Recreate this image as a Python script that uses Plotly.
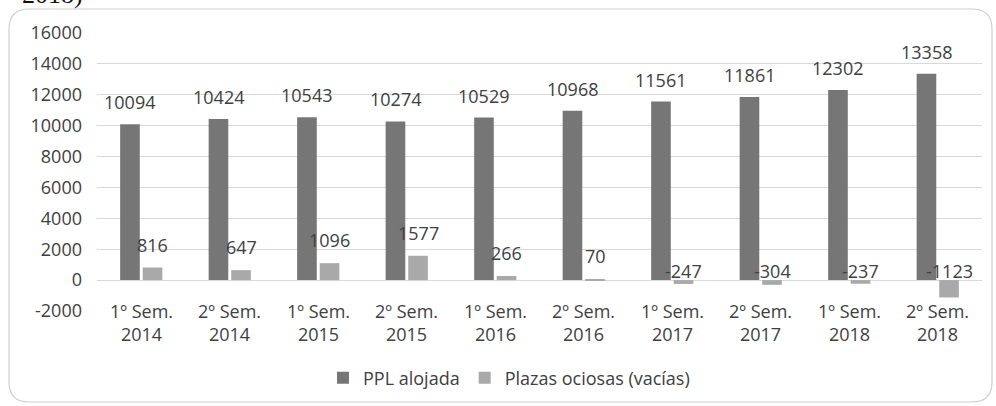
import plotly.graph_objects as go

# data
periodos = ["1º Sem.<br>2014", "2º Sem.<br>2014", "1º Sem.<br>2015", "2º Sem.<br>2015",
            "1º Sem.<br>2016", "2º Sem.<br>2016", "1º Sem.<br>2017", "2º Sem.<br>2017",
            "1º Sem.<br>2018", "2º Sem.<br>2018"]
ppl_alojada = [10094, 10424, 10543, 10274, 10529, 10968, 11561, 11861, 12302, 13358]
plazas_ociosas = [816, 647, 1096, 1577, 266, 70, -247, -304, -237, -1123]
y_ticks = [-2000, 0, 2000, 4000, 6000, 8000, 10000, 12000, 14000, 16000]

W, H = 996, 406
# plot area in pixels
PL, PR, PT, PB = 97, 982, 33, 311
BARGAP, GROUPGAP = 0.49, 0.13

FONT = "Open Sans"
TXT = "#404040"
DARK = "#767676"
LIGHT = "#a9a9a9"


def px_x(px):
    return (px - PL) / (PR - PL)


def px_y(py):
    return (PB - py) / (PB - PT)


fig = go.Figure()
fig.add_trace(go.Bar(x=periodos, y=ppl_alojada, name="PPL alojada",
                     marker=dict(color=DARK, line_width=0)))
fig.add_trace(go.Bar(x=periodos, y=plazas_ociosas, name="Plazas ociosas (vacías)",
                     marker=dict(color=LIGHT, line_width=0)))

# data labels (Excel style: negative labels sit above the baseline)
cat_px = (PR - PL) / len(periodos)
off = (1 - BARGAP) / 4 * cat_px
annotations = []
for cat, v in zip(periodos, ppl_alojada):
    annotations.append(dict(x=cat, y=v, text=str(v), showarrow=False, xshift=-off,
                            yanchor="bottom", yshift=8,
                            font=dict(family=FONT, size=18, color=TXT)))
for cat, v in zip(periodos, plazas_ociosas):
    annotations.append(dict(x=cat, y=max(v, 0), text=str(v), showarrow=False, xshift=off,
                            yanchor="bottom", yshift=9 if v > 0 else -5,
                            font=dict(family=FONT, size=18, color=TXT)))
# category labels, drawn over the lowest gridline like the original
for cat in periodos:
    annotations.append(dict(x=cat, y=y_ticks[0], text=cat, showarrow=False,
                            yanchor="top", yshift=14,
                            font=dict(family=FONT, size=18, color=TXT)))
# cut-off caption text above the chart frame
annotations.append(dict(xref="paper", yref="paper", x=px_x(20), y=px_y(11),
                        xanchor="left", yanchor="bottom", text="2018)", showarrow=False,
                        font=dict(family="Liberation Serif", size=26, color="#111111")))

# rounded chart-area frame
x0, x1, y0, y1, r = 9, 992, 9, 402, 20
frame = (f"M {px_x(x0 + r)},{px_y(y0)} L {px_x(x1 - r)},{px_y(y0)} "
         f"Q {px_x(x1)},{px_y(y0)} {px_x(x1)},{px_y(y0 + r)} "
         f"L {px_x(x1)},{px_y(y1 - r)} Q {px_x(x1)},{px_y(y1)} {px_x(x1 - r)},{px_y(y1)} "
         f"L {px_x(x0 + r)},{px_y(y1)} Q {px_x(x0)},{px_y(y1)} {px_x(x0)},{px_y(y1 - r)} "
         f"L {px_x(x0)},{px_y(y0 + r)} Q {px_x(x0)},{px_y(y0)} {px_x(x0 + r)},{px_y(y0)} Z")

fig.update_layout(
    width=W, height=H,
    margin=dict(l=PL, r=W - PR, t=PT, b=H - PB, autoexpand=False),
    paper_bgcolor="white", plot_bgcolor="white",
    barmode="group", bargap=BARGAP, bargroupgap=GROUPGAP,
    font=dict(family=FONT, size=18, color=TXT),
    showlegend=True,
    legend=dict(orientation="h", xanchor="center", yanchor="middle",
                x=px_x(509), y=px_y(378), font=dict(size=18, color=TXT),
                itemwidth=30, traceorder="normal"),
    annotations=annotations,
    shapes=[dict(type="path", xref="paper", yref="paper", path=frame,
                 line=dict(color="#cfcfcf", width=1.2), layer="below")],
    xaxis=dict(showticklabels=False, showgrid=False, showline=False, zeroline=False,
               ticks=""),
    yaxis=dict(range=[-2000, 16000], tickvals=y_ticks, ticktext=[str(v) for v in y_ticks],
               showgrid=True, gridcolor="#d9d9d9", gridwidth=1, zeroline=False,
               showline=False, ticks="", ticklabelstandoff=14,
               tickfont=dict(family=FONT, size=18, color=TXT)),
)

# drop the browser's default 8px body margin so the figure sits at the page corner
fig.write_html("out.html", config={"displayModeBar": False},
               post_script="document.body.style.margin = '0';")
